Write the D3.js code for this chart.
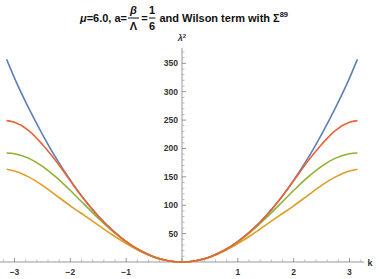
<!DOCTYPE html>
<html>
<head>
<meta charset="utf-8">
<script src="https://cdn.jsdelivr.net/npm/d3@7"></script>
<style>
  body { margin: 0; background: #fff; }
  text { font-family: "Liberation Sans", Arial, sans-serif; }
</style>
</head>
<body>
<div id="viz"></div>
<script>
// k values
var kVals = [-3.1416, -3, -2.75, -2.5, -2.25, -2, -1.75, -1.5, -1.25, -1, -0.75, -0.5, -0.25,
             0, 0.25, 0.5, 0.75, 1, 1.25, 1.5, 1.75, 2, 2.25, 2.5, 2.75, 3, 3.1416];

var blueVals = [357, 324, 272, 225, 182, 144, 110, 81, 56, 36, 20.3, 9, 2.25,
                0, 2.25, 9, 20.3, 36, 56, 81, 110, 144, 182, 225, 272, 324, 357];
var orangeVals = [163.5, 160.5, 150, 135, 117, 99, 82, 65, 48, 32.5, 19, 8.6, 2.2,
                  0, 2.2, 8.6, 19, 32.5, 48, 65, 82, 99, 117, 135, 150, 160.5, 163.5];
var greenVals = [192, 190.8, 183, 168.6, 149, 126, 101.5, 77.3, 54.9, 35.6, 20.2, 9, 2.25,
                 0, 2.25, 9, 20.2, 35.6, 54.9, 77.3, 101.5, 126, 149, 168.6, 183, 190.8, 192];
var redVals = [249, 246, 232, 207, 177, 143, 110, 80.5, 56, 36, 20.2, 9, 2.25,
               0, 2.25, 9, 20.2, 36, 56, 80.5, 110, 143, 177, 207, 232, 246, 249];

var xTicks = [-3, -2, -1, 1, 2, 3];
var yTicks = [50, 100, 150, 200, 250, 300, 350];

var seriesList = [
  { vals: blueVals, color: '#5E81B5' },
  { vals: orangeVals, color: '#E19C24' },
  { vals: greenVals, color: '#8FB032' },
  { vals: redVals, color: '#EB6235' }
];

var width = 379, height = 279;

var svg = d3.select('#viz')
  .append('svg')
  .attr('width', width)
  .attr('height', height);

var xScale = d3.scaleLinear()
  .domain([-3.26, 3.26])
  .range([0, 364]);

var yScale = d3.scaleLinear()
  .domain([0, 377])
  .range([262, 48]);

var axisColor = '#999';

// x axis
svg.append('line')
  .attr('x1', xScale(-3.26)).attr('x2', xScale(3.26))
  .attr('y1', yScale(0)).attr('y2', yScale(0))
  .attr('stroke', axisColor).attr('stroke-width', 1);

d3.range(-16, 17).forEach(function (i) {
  var v = i * 0.2;
  var major = (i % 5 === 0);
  svg.append('line')
    .attr('x1', xScale(v)).attr('x2', xScale(v))
    .attr('y1', yScale(0)).attr('y2', yScale(0) - (major ? 4 : 2.5))
    .attr('stroke', major ? '#777' : '#aaa').attr('stroke-width', 0.8);
});

svg.selectAll('text.xlab')
  .data(xTicks)
  .enter()
  .append('text')
  .attr('class', 'xlab')
  .attr('x', function (d) { return xScale(d); })
  .attr('y', 275)
  .attr('text-anchor', 'middle')
  .attr('font-size', 8.5)
  .attr('font-weight', 'bold')
  .attr('fill', '#333')
  .text(function (d) { return d < 0 ? '\u2212' + Math.abs(d) : d; });

svg.append('text')
  .attr('x', 370).attr('y', 266)
  .attr('text-anchor', 'middle')
  .attr('font-size', 9)
  .attr('font-weight', 'bold')
  .attr('fill', '#333')
  .text('k');

// y axis
svg.append('line')
  .attr('x1', xScale(0)).attr('x2', xScale(0))
  .attr('y1', yScale(0)).attr('y2', yScale(377))
  .attr('stroke', axisColor).attr('stroke-width', 1);

d3.range(1, 38).forEach(function (i) {
  var v = i * 10;
  var major = (i % 5 === 0);
  svg.append('line')
    .attr('x1', xScale(0)).attr('x2', xScale(0) + (major ? 4 : 2.5))
    .attr('y1', yScale(v)).attr('y2', yScale(v))
    .attr('stroke', major ? '#777' : '#aaa').attr('stroke-width', 0.8);
});

svg.selectAll('text.ylab')
  .data(yTicks)
  .enter()
  .append('text')
  .attr('class', 'ylab')
  .attr('x', xScale(0) - 4)
  .attr('y', function (d) { return yScale(d) + 3; })
  .attr('text-anchor', 'end')
  .attr('font-size', 8.5)
  .attr('font-weight', 'bold')
  .attr('fill', '#333')
  .text(function (d) { return d; });

// lambda^2 label
var lam = svg.append('text')
  .attr('x', 182).attr('y', 41)
  .attr('text-anchor', 'middle')
  .attr('font-size', 9)
  .attr('font-weight', 'bold')
  .attr('fill', '#333');
lam.append('tspan').attr('font-style', 'italic').text('\u03bb');
lam.append('tspan').attr('font-size', 6).attr('dy', -3).text('2');

// curves
var line = d3.line()
  .x(function (d) { return xScale(d[0]); })
  .y(function (d) { return yScale(d[1]); })
  .curve(d3.curveMonotoneX);

seriesList.forEach(function (s) {
  svg.append('path')
    .datum(kVals.map(function (k, i) { return [k, s.vals[i]]; }))
    .attr('d', line)
    .attr('fill', 'none')
    .attr('stroke', s.color)
    .attr('stroke-width', 1.6);
});

// title
var title = svg.append('g')
  .attr('font-size', 11)
  .attr('font-weight', 'bold')
  .attr('fill', '#111');

title.append('text')
  .attr('x', 127).attr('y', 22)
  .attr('text-anchor', 'end')
  .html('<tspan font-style="italic">\u03bc</tspan>=6.0, a=');

title.append('text').attr('x', 133.5).attr('y', 14).attr('text-anchor', 'middle').attr('font-style', 'italic').text('\u03b2');
title.append('line').attr('x1', 128).attr('x2', 139).attr('y1', 18).attr('y2', 18).attr('stroke', '#111').attr('stroke-width', 1);
title.append('text').attr('x', 133.5).attr('y', 30).attr('text-anchor', 'middle').text('\u039b');

title.append('text').attr('x', 144.5).attr('y', 22).attr('text-anchor', 'middle').text('=');

title.append('text').attr('x', 152).attr('y', 14).attr('text-anchor', 'middle').text('1');
title.append('line').attr('x1', 149).attr('x2', 155.5).attr('y1', 18).attr('y2', 18).attr('stroke', '#111').attr('stroke-width', 1);
title.append('text').attr('x', 152).attr('y', 30).attr('text-anchor', 'middle').text('6');

var tail = title.append('text').attr('x', 159.5).attr('y', 22);
tail.append('tspan').text('and Wilson term with \u03a3');
tail.append('tspan').attr('font-size', 7.5).attr('dy', -5).text('89');
</script>
</body>
</html>
